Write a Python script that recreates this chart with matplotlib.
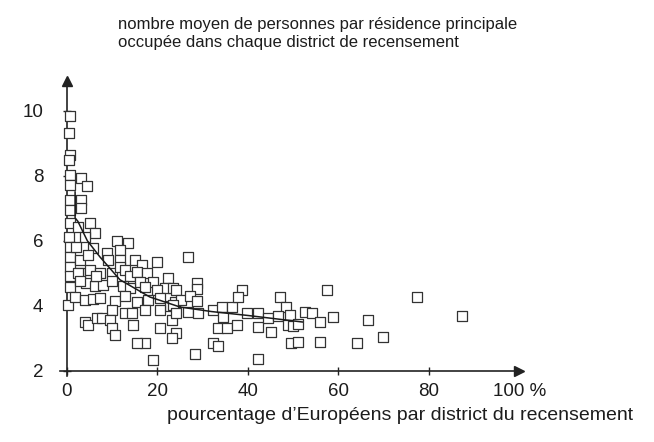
import matplotlib
matplotlib.use("Agg")
import matplotlib.pyplot as plt

plt.rcParams['font.family'] = ['Liberation Sans', 'DejaVu Sans']

# percentage of Europeans per census district
pct_europeans = [
    0.7, 0.5, 0.7, 0.5, 0.7, 0.7, 0.7, 0.7, 0.7, 0.5, 0.7, 0.7, 0.7, 0.7, 0.7, 0.3,
    3.2, 4.5, 3.2, 3.2, 5.1, 6.2, 2.4, 4.0, 2.1, 5.8, 11.0, 13.5, 8.8, 11.7, 9.1, 11.7,
    15.0, 16.5, 19.8, 2.9, 4.7, 2.9, 5.1, 2.4, 7.3, 9.9, 11.7, 12.8, 13.9, 15.4, 17.6,
    16.1, 19.1, 22.4, 21.7, 23.5, 19.8, 4.3, 6.2, 8.0, 9.9, 12.4, 13.9, 17.2, 2.9, 6.4,
    1.8, 4.0, 5.8, 7.3, 10.6, 12.8, 15.4, 18.0, 20.6, 22.8, 23.9, 9.9, 12.8, 14.3, 17.2,
    20.6, 4.0, 4.7, 6.6, 7.7, 9.5, 9.9, 10.6, 14.7, 17.2, 15.4, 19.1, 20.6, 23.3,
    26.8, 28.7, 28.7, 24.2, 25.3, 27.2, 28.7, 23.5, 24.2, 26.8, 29.0, 24.2, 23.3, 28.3,
    32.3, 34.2, 36.4, 34.5, 33.4, 35.3, 37.5, 32.3, 33.4, 38.6, 37.9, 39.7, 42.3, 42.3,
    42.3, 45.2, 44.5, 47.1, 48.5, 46.7, 49.3, 48.9, 50.0, 51.1, 49.6, 51.1, 52.6, 54.1,
    55.9, 58.9, 57.4, 55.9, 64.0, 66.6, 77.3, 87.4, 69.9,
]
# mean number of persons per occupied main residence
persons_per_home = [
    9.85, 9.32, 8.65, 8.48, 8.02, 7.70, 7.25, 6.95, 6.55, 6.12, 5.80, 5.50, 5.20, 4.90, 4.58, 4.02,
    7.92, 7.68, 7.25, 7.00, 6.55, 6.25, 6.43, 6.10, 5.80, 5.78, 6.00, 5.92, 5.63, 5.71, 5.40, 5.40,
    5.40, 5.25, 5.35, 5.40, 5.55, 5.00, 5.10, 5.00, 5.00, 5.00, 5.20, 5.10, 4.90, 5.05, 5.00,
    4.74, 4.74, 4.84, 4.54, 4.55, 4.48, 4.70, 4.60, 4.65, 4.75, 4.60, 4.55, 4.58, 4.75, 4.90,
    4.28, 4.17, 4.20, 4.25, 4.15, 4.30, 4.12, 4.17, 4.23, 4.00, 4.10, 3.87, 3.78, 3.78, 3.87,
    3.87, 3.50, 3.40, 3.62, 3.62, 3.56, 3.31, 3.10, 3.41, 2.84, 2.85, 2.33, 3.30, 3.56,
    5.50, 4.70, 4.53, 4.48, 4.18, 4.30, 4.14, 4.02, 3.78, 3.82, 3.78, 3.15, 3.00, 2.51,
    3.87, 3.97, 3.97, 3.66, 3.30, 3.30, 3.41, 2.84, 2.76, 4.48, 4.28, 3.77, 3.77, 3.35,
    2.35, 3.20, 3.63, 4.26, 3.97, 3.68, 3.71, 3.40, 3.37, 3.43, 2.84, 2.89, 3.82, 3.78,
    3.50, 3.66, 4.48, 2.89, 2.84, 3.56, 4.28, 3.68, 3.03,
]

# hand-drawn trend curve
trend_x = [1.8, 1.8, 2.4, 4.5, 7.3, 11.7, 18.3, 25.0, 32.0, 40.0, 46.0, 52.0]
trend_y = [7.5, 6.7, 6.6, 6.0, 5.5, 4.8, 4.27, 3.96, 3.82, 3.70, 3.60, 3.50]

x_ticks = [0, 20, 40, 60, 80]
y_ticks = [2, 4, 6, 8, 10]

ink = '#222222'
txt = '#1c1c1c'
fig = plt.figure(figsize=(6.54, 4.42), dpi=100)
ax = fig.add_axes([0.0920, 0.1502, 0.7023, 0.6655])
ax.set_xlim(-1.5, 100)
ax.set_ylim(1.85, 10.9)

ax.scatter(pct_europeans, persons_per_home, marker='s', s=55, facecolors='white',
           edgecolors='#333333', linewidths=0.9, zorder=3, clip_on=False)
ax.plot(trend_x, trend_y, color='#1a1a1a', lw=1.1, zorder=4)

for s in ['top', 'right']:
    ax.spines[s].set_visible(False)
ax.spines['left'].set_position(('data', 0))
ax.spines['bottom'].set_position(('data', 2))
for s in ['left', 'bottom']:
    ax.spines[s].set_color(ink)
    ax.spines[s].set_linewidth(1.2)

ax.plot(100, 2, marker='>', ms=7, color=ink, clip_on=False, zorder=5)
ax.plot(0, 10.9, marker='^', ms=7, color=ink, clip_on=False, zorder=5)

ax.set_xticks(x_ticks)
ax.set_yticks(y_ticks)
ax.set_xticklabels([str(v) for v in x_ticks])
ax.set_yticklabels([str(v) for v in y_ticks])
ax.tick_params(axis='both', direction='inout', length=6, width=1, color=ink,
               labelsize=13.5, labelcolor=txt)
ax.tick_params(axis='y', pad=14)
ax.tick_params(axis='x', pad=6)
ax.text(100, 2 - 0.39, '100 %', transform=ax.transData, ha='center', va='top',
        fontsize=13.5, color=txt)

fig.text(167 / 654, 1 - 416 / 442, "pourcentage d\u2019Europ\u00e9ens par district du recensement",
         ha='left', va='center', fontsize=14, color=txt)
fig.text(118 / 654, 1 - 25 / 442, "nombre moyen de personnes par r\u00e9sidence principale",
         ha='left', va='center', fontsize=12, color=txt)
fig.text(118 / 654, 1 - 43 / 442, "occup\u00e9e dans chaque district de recensement",
         ha='left', va='center', fontsize=12, color=txt)

fig.savefig('out.png', dpi=100, facecolor='white')
